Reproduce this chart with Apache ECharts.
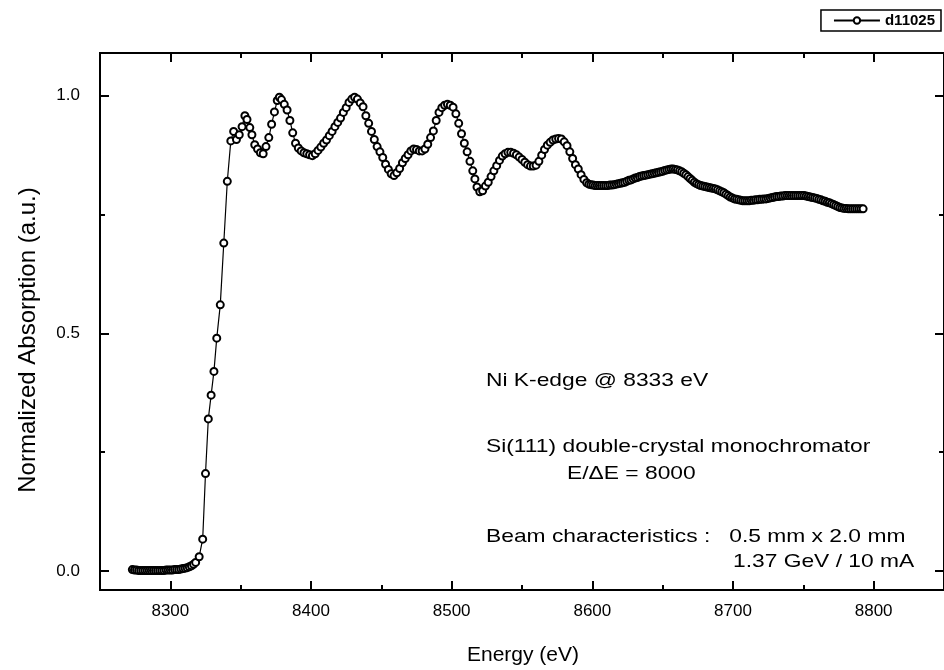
<!DOCTYPE html>
<html>
<head>
<meta charset="utf-8">
<script src="https://cdn.jsdelivr.net/npm/echarts@6/dist/echarts.min.js"></script>
<style>
  html, body { margin: 0; padding: 0; background: #fff; }
  #chart { width: 944px; height: 670px; }
</style>
</head>
<body>
<div id="chart"></div>
<script>
// energy (eV) and normalized absorption
var energy = [
    8273, 8274.5, 8276, 8277.5, 8279, 8280.5, 8282, 8283.5, 8285, 8286.5,
    8288, 8289.5, 8291, 8292.5, 8294, 8295.5, 8297, 8298.5, 8300, 8301.5,
    8303, 8304.5, 8306, 8307.5, 8309, 8310.5, 8312, 8313.5, 8315, 8316.5,
    8318, 8320.5, 8323, 8325, 8327, 8329, 8331, 8333, 8335.5, 8338,
    8340.5, 8343, 8345, 8347, 8349, 8351, 8353, 8354.5, 8356.5, 8358,
    8360, 8362, 8364, 8366, 8368, 8370, 8372, 8374, 8376, 8377.5,
    8379, 8381, 8383, 8385, 8387, 8389, 8391, 8393, 8395, 8397,
    8399, 8401, 8403, 8405, 8407, 8409, 8411, 8413, 8415, 8417,
    8419, 8421, 8423, 8425, 8427, 8429, 8431, 8433, 8435, 8437,
    8439, 8441, 8443, 8445, 8447, 8449, 8451, 8453, 8455, 8457,
    8459, 8461, 8463, 8465, 8467, 8469, 8471, 8473, 8475, 8477,
    8479, 8481, 8483, 8485, 8487, 8489, 8491, 8493, 8495, 8497,
    8499, 8501, 8503, 8505, 8507, 8509, 8511, 8513, 8515, 8516.5,
    8518, 8520, 8522, 8524, 8526, 8528, 8530, 8532, 8534, 8536,
    8538, 8540, 8542, 8544, 8546, 8548, 8550, 8552, 8554, 8556,
    8558, 8560, 8562, 8564, 8566, 8568, 8570, 8572, 8574, 8576,
    8578, 8580, 8582, 8584, 8586, 8588, 8590, 8592, 8594,
    8596, 8597.5, 8599, 8600.5, 8602, 8603.5, 8605, 8606.5, 8608, 8609.5,
    8611, 8612.5, 8614, 8615.5, 8617, 8618.5, 8620, 8621.5, 8623, 8624.5,
    8626, 8627.5, 8629, 8630.5, 8632, 8633.5, 8635, 8636.5, 8638, 8639.5,
    8641, 8642.5, 8644, 8645.5, 8647, 8648.5, 8650, 8651.5, 8653, 8654.5,
    8656, 8657.5, 8659, 8660.5, 8662, 8663.5, 8665, 8666.5, 8668, 8669.5,
    8671, 8672.5, 8674, 8675.5, 8677, 8678.5, 8680, 8681.5, 8683, 8684.5,
    8686, 8687.5, 8689, 8690.5, 8692, 8693.5, 8695, 8696.5, 8698, 8699.5,
    8701, 8702.5, 8704, 8705.5, 8707, 8708.5, 8710, 8711.5, 8713, 8714.5,
    8716, 8717.5, 8719, 8720.5, 8722, 8723.5, 8725, 8726.5, 8728, 8729.5,
    8731, 8732.5, 8734, 8735.5, 8737, 8738.5, 8740, 8741.5, 8743, 8744.5,
    8746, 8747.5, 8749, 8750.5, 8752, 8753.5, 8755, 8756.5, 8758, 8759.5,
    8761, 8762.5, 8764, 8765.5, 8767, 8768.5, 8770, 8771.5, 8773, 8774.5,
    8776, 8777.5, 8779, 8780.5, 8782, 8783.5, 8785, 8786.5, 8788, 8789.5,
    8791, 8792.5
];
var absorption = [
    0.003, 0.002, 0.002, 0.001, 0.001, 0.001, 0.001, 0.001, 0.001, 0.001,
    0.001, 0.001, 0.001, 0.001, 0.001, 0.001, 0.002, 0.002, 0.002, 0.002,
    0.003, 0.003, 0.003, 0.004, 0.005, 0.006, 0.007, 0.009, 0.011, 0.014,
    0.018, 0.030, 0.067, 0.205, 0.320, 0.370, 0.420, 0.490, 0.560, 0.690,
    0.820, 0.905, 0.925, 0.908, 0.918, 0.935, 0.958, 0.950, 0.933, 0.918,
    0.897, 0.888, 0.880, 0.878, 0.893, 0.912, 0.940, 0.966, 0.990, 0.997,
    0.992, 0.982, 0.970, 0.948, 0.922, 0.900, 0.890, 0.884, 0.880, 0.878,
    0.876, 0.874, 0.878, 0.885, 0.892, 0.900, 0.907, 0.916, 0.925, 0.935,
    0.944, 0.953, 0.965, 0.975, 0.986, 0.993, 0.997, 0.993, 0.985, 0.977,
    0.958, 0.942, 0.925, 0.908, 0.893, 0.882, 0.870, 0.856, 0.845, 0.836,
    0.832, 0.838, 0.847, 0.859, 0.868, 0.876, 0.884, 0.888, 0.887, 0.884,
    0.884, 0.888, 0.898, 0.912, 0.926, 0.948, 0.965, 0.975, 0.980, 0.982,
    0.980, 0.976, 0.962, 0.942, 0.920, 0.900, 0.882, 0.862, 0.842, 0.825,
    0.808, 0.798, 0.800, 0.810, 0.818, 0.830, 0.842, 0.853, 0.864, 0.873,
    0.878, 0.881, 0.881, 0.879, 0.876, 0.871, 0.866, 0.860, 0.855, 0.852,
    0.852, 0.854, 0.862, 0.875, 0.887, 0.896, 0.902, 0.907, 0.909, 0.910,
    0.909, 0.903, 0.895, 0.882, 0.868, 0.855, 0.846, 0.834, 0.824,
    0.817, 0.814, 0.813, 0.812, 0.811, 0.811, 0.811, 0.811, 0.811, 0.811,
    0.811, 0.812, 0.812, 0.813, 0.814, 0.815, 0.816, 0.817, 0.818, 0.820,
    0.822, 0.823, 0.825, 0.827, 0.828, 0.830, 0.831, 0.832, 0.833, 0.834,
    0.835, 0.836, 0.837, 0.838, 0.839, 0.840, 0.841, 0.843, 0.844, 0.845,
    0.846, 0.846, 0.845, 0.844, 0.842, 0.840, 0.837, 0.834, 0.830, 0.826,
    0.822, 0.818, 0.815, 0.813, 0.811, 0.810, 0.809, 0.808, 0.807, 0.806,
    0.805, 0.804, 0.802, 0.800, 0.798, 0.796, 0.793, 0.790, 0.787, 0.785,
    0.783, 0.782, 0.781, 0.780, 0.779, 0.779, 0.779, 0.779, 0.780, 0.780,
    0.781, 0.781, 0.782, 0.782, 0.783, 0.783, 0.784, 0.785, 0.786, 0.787,
    0.788, 0.788, 0.789, 0.789, 0.790, 0.790, 0.790, 0.790, 0.790, 0.790,
    0.790, 0.790, 0.790, 0.790, 0.789, 0.788, 0.787, 0.786, 0.785, 0.784,
    0.782, 0.781, 0.779, 0.778, 0.776, 0.775, 0.773, 0.771, 0.769, 0.767,
    0.765, 0.764, 0.763, 0.763, 0.762, 0.762, 0.762, 0.762, 0.762, 0.762,
    0.762, 0.762
];

var xMajorTicks = [8300, 8400, 8500, 8600, 8700, 8800];
var xMinorTicks = [8350, 8450, 8550, 8650, 8750];
var yMajorTicks = [0, 0.5, 1.0];
var yMinorTicks = [0.25, 0.75];

var seriesName = 'd11025';
var notes = [
    'Ni K-edge @ 8333 eV',
    'Si(111) double-crystal monochromator',
    'E/\u0394E = 8000',
    'Beam characteristics :   0.5 mm x 2.0 mm',
    '1.37 GeV / 10 mA'
];

var font = '"Liberation Sans", Arial, sans-serif';

var points = [];
for (var i = 0; i < energy.length; i++) {
    points.push([energy[i], absorption[i]]);
}

function xAxisDef(pos, ticks, len, labels) {
    return {
        type: 'value', position: pos, min: 8250, max: 8850,
        axisLine: { show: true, onZero: false, lineStyle: { color: '#000', width: 2 } },
        axisTick: { show: true, inside: true, length: len, customValues: ticks, lineStyle: { color: '#000', width: 2 } },
        axisLabel: labels ? {
            show: true, customValues: ticks, color: '#000', fontSize: 17, fontFamily: font, margin: 13,
            formatter: function (v) { return String(v); }
        } : { show: false },
        splitLine: { show: false }
    };
}

function yAxisDef(pos, ticks, len, labels) {
    return {
        type: 'value', position: pos, min: -0.04, max: 1.09,
        axisLine: { show: true, onZero: false, lineStyle: { color: '#000', width: 2 } },
        axisTick: { show: true, inside: true, length: len, customValues: ticks, lineStyle: { color: '#000', width: 2 } },
        axisLabel: labels ? {
            show: true, customValues: ticks, color: '#000', fontSize: 17, fontFamily: font, margin: 20,
            formatter: function (v) { return v.toFixed(1); }
        } : { show: false },
        splitLine: { show: false }
    };
}

function note(x, y, txt) {
    return {
        type: 'text', x: x, y: y, scaleX: 1.2,
        style: { text: txt, fill: '#000', font: '19px ' + font, verticalAlign: 'middle' }
    };
}

var chart = echarts.init(document.getElementById('chart'));
var option = {
    animation: false,
    backgroundColor: '#fff',
    grid: { left: 100, right: -4, top: 53, bottom: 80 },
    legend: {
        right: 3, top: 10,
        data: [seriesName],
        itemWidth: 46, itemHeight: 8, itemGap: 6,
        padding: [3, 6, 3, 12],
        borderColor: '#000', borderWidth: 1.5,
        textStyle: { color: '#000', fontSize: 15, fontFamily: font, fontWeight: 'bold' }
    },
    xAxis: [
        xAxisDef('bottom', xMajorTicks, 9, true),
        xAxisDef('bottom', xMinorTicks, 5, false),
        xAxisDef('top', xMajorTicks, 9, false),
        xAxisDef('top', xMinorTicks, 5, false)
    ],
    yAxis: [
        yAxisDef('left', yMajorTicks, 9, true),
        yAxisDef('left', yMinorTicks, 5, false),
        yAxisDef('right', yMajorTicks, 9, false),
        yAxisDef('right', yMinorTicks, 5, false)
    ],
    graphic: [
        { type: 'text', x: 523, y: 655, style: { text: 'Energy (eV)', fill: '#000', font: '21px ' + font, align: 'center', verticalAlign: 'middle' } },
        { type: 'text', x: 28, y: 340, rotation: Math.PI / 2, style: { text: 'Normalized Absorption (a.u.)', fill: '#000', font: '24px ' + font, align: 'center', verticalAlign: 'middle' } },
        note(486, 381, notes[0]),
        note(486, 447, notes[1]),
        note(567, 474, notes[2]),
        note(486, 537, notes[3]),
        note(733, 562, notes[4])
    ],
    series: [{
        name: seriesName,
        type: 'line',
        data: points,
        showAllSymbol: true,
        symbol: 'circle',
        symbolSize: 7,
        itemStyle: { color: '#fff', borderColor: '#000', borderWidth: 2 },
        lineStyle: { color: '#000', width: 1.2 },
        emphasis: { disabled: true }
    }]
};
chart.setOption(option);
</script>
</body>
</html>
